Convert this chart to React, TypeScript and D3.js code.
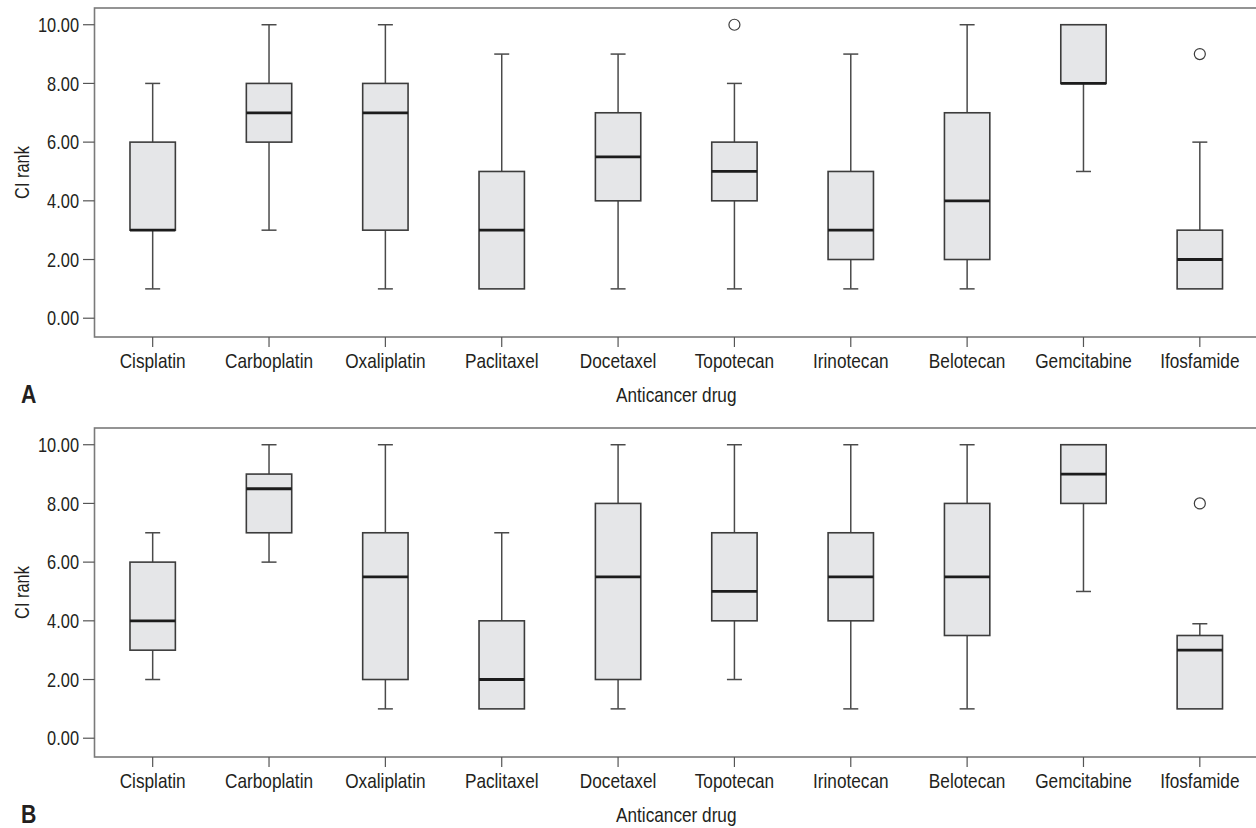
import * as d3 from 'd3';
import type { ReactNode } from 'react';

// drugs on the x axis
const drugs = [
  'Cisplatin',
  'Carboplatin',
  'Oxaliplatin',
  'Paclitaxel',
  'Docetaxel',
  'Topotecan',
  'Irinotecan',
  'Belotecan',
  'Gemcitabine',
  'Ifosfamide',
];

// panel A box statistics (CI rank)
const minA = [1, 3, 1, 1, 1, 1, 1, 1, 5, 1];
const q1A = [3, 6, 3, 1, 4, 4, 2, 2, 8, 1];
const medA = [3, 7, 7, 3, 5.5, 5, 3, 4, 8, 2];
const q3A = [6, 8, 8, 5, 7, 6, 5, 7, 10, 3];
const maxA = [8, 10, 10, 9, 9, 8, 9, 10, 10, 6];
const outDrugsA = ['Topotecan', 'Ifosfamide'];
const outValuesA = [10, 9];

// panel B box statistics (CI rank)
const minB = [2, 6, 1, 1, 1, 2, 1, 1, 5, 1];
const q1B = [3, 7, 2, 1, 2, 4, 4, 3.5, 8, 1];
const medB = [4, 8.5, 5.5, 2, 5.5, 5, 5.5, 5.5, 9, 3];
const q3B = [6, 9, 7, 4, 8, 7, 7, 8, 10, 3.5];
const maxB = [7, 10, 10, 7, 10, 10, 10, 10, 10, 3.9];
const outDrugsB = ['Ifosfamide'];
const outValuesB = [8];

const yTicks = [0, 2, 4, 6, 8, 10];

const FONT = '"Liberation Sans", Arial, sans-serif';
const TEXT = '#231f20';
const NARROW = 0.82; // no condensed face installed, squeeze Liberation Sans instead

interface NarrowProps {
  x: number;
  y: number;
  size: number;
  anchor?: 'start' | 'middle' | 'end';
  rotate?: number;
  bold?: boolean;
  dy?: string;
  children: ReactNode;
}

function Narrow({ x, y, size, anchor = 'start', rotate = 0, bold = false, dy, children }: NarrowProps) {
  return (
    <text
      transform={`translate(${x},${y}) rotate(${rotate}) scale(${NARROW},1)`}
      dy={dy}
      textAnchor={anchor}
      fontSize={size}
      fontWeight={bold ? 'bold' : 'normal'}
      fill={TEXT}
      fontFamily={FONT}
    >
      {children}
    </text>
  );
}

interface PanelProps {
  top: number;
  letter: string;
  min: number[];
  q1: number[];
  med: number[];
  q3: number[];
  max: number[];
  outDrugs: string[];
  outValues: number[];
}

const frame = { left: 94.5, right: 1258, height: 329 };

function Panel({ top, letter, min, q1, med, q3, max, outDrugs, outValues }: PanelProps) {
  const bottom = top + frame.height;
  const x = d3.scaleBand<string>().domain(drugs).range([frame.left, frame.right]);
  const y = d3.scaleLinear().domain([-0.64, 10.57]).range([bottom, top]);
  const boxW = x.bandwidth() * 0.39;
  const capW = 15;
  const cx = (d: string) => (x(d) ?? 0) + x.bandwidth() / 2;
  const fmt = d3.format('.2f');

  return (
    <g>
      {/* frame */}
      <rect
        x={frame.left}
        y={top}
        width={frame.right - frame.left}
        height={frame.height}
        fill="none"
        stroke="#7a7a7a"
        strokeWidth={1.6}
      />

      {/* y axis */}
      {yTicks.map((t) => (
        <g key={t}>
          <line x1={83} x2={frame.left} y1={y(t)} y2={y(t)} stroke="#555" strokeWidth={1.2} />
          <Narrow x={79} y={y(t)} dy="0.36em" size={20} anchor="end">
            {fmt(t)}
          </Narrow>
        </g>
      ))}
      <Narrow x={29} y={(top + bottom) / 2} size={20} anchor="middle" rotate={-90}>
        CI rank
      </Narrow>

      {/* x axis */}
      {drugs.map((d) => (
        <g key={d}>
          <line x1={cx(d)} x2={cx(d)} y1={bottom} y2={bottom + 10} stroke="#555" strokeWidth={1.2} />
          <Narrow x={cx(d)} y={bottom + 31} size={21} anchor="middle">
            {d}
          </Narrow>
        </g>
      ))}
      <Narrow x={(frame.left + frame.right) / 2} y={bottom + 65} size={21} anchor="middle">
        Anticancer drug
      </Narrow>
      <Narrow x={21} y={bottom + 66} size={26} bold>
        {letter}
      </Narrow>

      {/* boxes */}
      {drugs.map((d, i) => {
        const c = cx(d);
        return (
          <g key={d}>
            {max[i] > q3[i] && (
              <g stroke="#4a4a4a" strokeWidth={1.5}>
                <line x1={c} x2={c} y1={y(q3[i])} y2={y(max[i])} />
                <line x1={c - capW / 2} x2={c + capW / 2} y1={y(max[i])} y2={y(max[i])} />
              </g>
            )}
            {min[i] < q1[i] && (
              <g stroke="#4a4a4a" strokeWidth={1.5}>
                <line x1={c} x2={c} y1={y(q1[i])} y2={y(min[i])} />
                <line x1={c - capW / 2} x2={c + capW / 2} y1={y(min[i])} y2={y(min[i])} />
              </g>
            )}
            <rect
              x={c - boxW / 2}
              y={y(q3[i])}
              width={boxW}
              height={y(q1[i]) - y(q3[i])}
              fill="#e5e6e8"
              stroke="#3c3c3c"
              strokeWidth={1.6}
            />
            <line
              x1={c - boxW / 2}
              x2={c + boxW / 2}
              y1={y(med[i])}
              y2={y(med[i])}
              stroke="#1c1c1c"
              strokeWidth={2.8}
            />
          </g>
        );
      })}

      {/* outliers */}
      {outDrugs.map((d, i) => (
        <circle
          key={d}
          cx={cx(d)}
          cy={y(outValues[i])}
          r={5.5}
          fill="#fff"
          stroke="#3c3c3c"
          strokeWidth={1.2}
        />
      ))}
    </g>
  );
}

export default function App() {
  return (
    <svg
      width={1256}
      height={828}
      viewBox="0 0 1256 828"
      style={{ position: 'absolute', left: 0, top: 0, display: 'block', background: '#fff' }}
    >
      <Panel
        top={8}
        letter="A"
        min={minA}
        q1={q1A}
        med={medA}
        q3={q3A}
        max={maxA}
        outDrugs={outDrugsA}
        outValues={outValuesA}
      />
      <Panel
        top={428}
        letter="B"
        min={minB}
        q1={q1B}
        med={medB}
        q3={q3B}
        max={maxB}
        outDrugs={outDrugsB}
        outValues={outValuesB}
      />
    </svg>
  );
}
